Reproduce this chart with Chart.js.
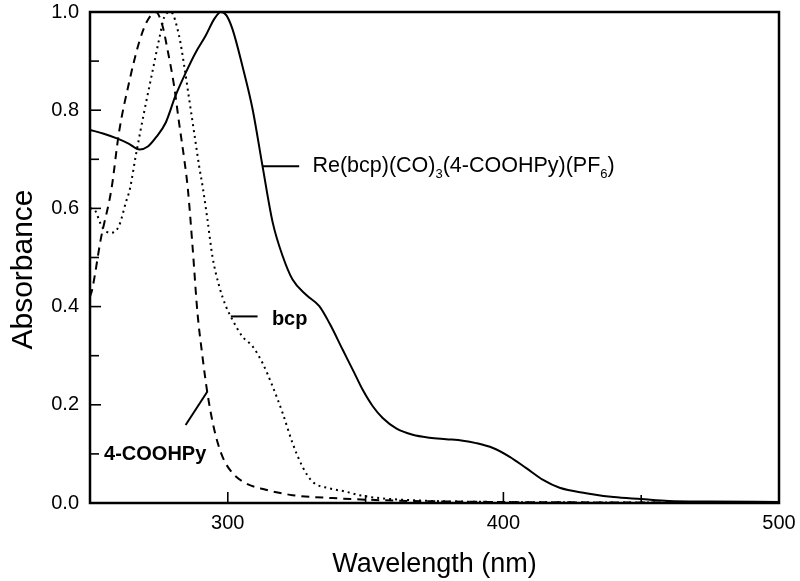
<!DOCTYPE html>
<html>
<head>
<meta charset="utf-8">
<script src="https://cdn.jsdelivr.net/npm/chart.js@4.4.1/dist/chart.umd.min.js"></script>
<style>
  html, body { margin: 0; padding: 0; background: #fff; }
</style>
</head>
<body>
<canvas id="chart" width="800" height="581"></canvas>
<script>
// Re(bcp)(CO)3(4-COOHPy)(PF6) - solid
const reWl = [250, 255, 260, 264, 268, 271, 274, 277.5, 281, 284.8, 288.4, 292, 295, 297.5, 299.5, 301.7, 305.3, 309, 312.6, 316.3, 319.9, 323.5, 328.4, 333.2, 337, 341.7, 345.9, 348.9, 352.6, 356.2, 361.1, 367.1, 373.2, 379.2, 385.3, 390.1, 396.2, 402.3, 408.3, 414.4, 420.4, 430, 440, 450, 460, 475, 500];
const reAbs = [0.760, 0.752, 0.742, 0.732, 0.720, 0.726, 0.745, 0.775, 0.829, 0.877, 0.918, 0.952, 0.985, 1.0, 0.993, 0.965, 0.890, 0.802, 0.686, 0.571, 0.503, 0.455, 0.424, 0.401, 0.365, 0.312, 0.265, 0.231, 0.197, 0.173, 0.152, 0.139, 0.133, 0.130, 0.127, 0.122, 0.112, 0.094, 0.071, 0.047, 0.031, 0.020, 0.012, 0.008, 0.004, 0.003, 0.002];

// bcp - dotted
const bcpWl = [250, 251.5, 254.5, 257.5, 260.5, 263, 264.5, 266.6, 269.6, 272.6, 275.1, 276.9, 279.3, 282.3, 284.2, 286, 287.8, 289.6, 291, 292.6, 294.4, 296.9, 299.3, 301.7, 305.3, 309, 312.6, 316.3, 319.9, 323.5, 327.1, 330.8, 336.8, 342.9, 347.7, 355, 370, 400, 450, 500];
const bcpAbs = [0.600, 0.598, 0.561, 0.550, 0.564, 0.612, 0.640, 0.707, 0.795, 0.877, 0.945, 0.989, 1.0, 0.952, 0.890, 0.822, 0.754, 0.686, 0.640, 0.578, 0.503, 0.441, 0.401, 0.373, 0.339, 0.319, 0.285, 0.237, 0.183, 0.122, 0.074, 0.043, 0.030, 0.023, 0.016, 0.010, 0.005, 0.002, 0.001, 0.0];

// 4-COOHPy - dashed
const pyWl = [250, 250.8, 253.9, 257.8, 260.5, 264.2, 267.8, 270.8, 273.9, 276.3, 278.1, 280.5, 282.3, 284.2, 285.5, 287.2, 289, 290.8, 292.6, 295.1, 298.1, 301.7, 306.6, 313.8, 323.5, 338, 360, 400, 450, 500];
const pyAbs = [0.420, 0.435, 0.537, 0.640, 0.754, 0.857, 0.938, 0.982, 1.0, 0.972, 0.924, 0.850, 0.775, 0.700, 0.640, 0.523, 0.387, 0.299, 0.224, 0.149, 0.094, 0.061, 0.040, 0.027, 0.016, 0.010, 0.005, 0.002, 0.001, 0.0];

const xLabels = [300, 400, 500];
const yLabels = [0.0, 0.2, 0.4, 0.6, 0.8, 1.0];

// curve labels: leader line [x1,y1,x2,y2], text anchor [x,y] in data units
const reLine = [312.6, 0.686, 325.9, 0.686];
const reText = [330.7, 0.686];
const bcpLine = [301.1, 0.380, 310.8, 0.380];
const bcpText = [316, 0.374];
const pyLine = [292.6, 0.227, 284.7, 0.159];
const pyText = [255.1, 0.098];

const FONT = "'Liberation Sans', Arial, sans-serif";

const pts = (xs, ys) => xs.map((x, i) => ({ x: x, y: ys[i] }));

// frame + inward ticks + y title
const framePlugin = {
  id: 'frame',
  afterDraw(chart) {
    const { ctx, chartArea: a, scales } = chart;
    ctx.save();
    ctx.strokeStyle = '#000';
    ctx.lineWidth = 1.6;
    for (let v = 300; v < 500; v += 50) {
      const px = scales.x.getPixelForValue(v);
      const len = v % 100 === 0 ? 11 : 8;
      ctx.beginPath();
      ctx.moveTo(px, a.bottom);
      ctx.lineTo(px, a.bottom - len);
      ctx.stroke();
    }
    for (let i = 1; i < 10; i++) {
      const py = scales.y.getPixelForValue(i / 10);
      ctx.beginPath();
      ctx.moveTo(a.left, py);
      ctx.lineTo(a.left + (i % 2 === 0 ? 11 : 9), py);
      ctx.stroke();
    }
    ctx.lineWidth = 2.5;
    ctx.strokeRect(a.left, a.top, a.right - a.left, a.bottom - a.top);

    // y axis title
    ctx.fillStyle = '#000';
    ctx.font = '30px ' + FONT;
    ctx.textAlign = 'center';
    ctx.textBaseline = 'middle';
    ctx.translate(24, (a.top + a.bottom) / 2 + 12);
    ctx.rotate(-Math.PI / 2);
    ctx.fillText('Absorbance', 0, 0);
    ctx.restore();
  }
};

// curve labels
const labelPlugin = {
  id: 'curveLabels',
  afterDatasetsDraw(chart) {
    const { ctx, scales } = chart;
    const X = v => scales.x.getPixelForValue(v);
    const Y = v => scales.y.getPixelForValue(v);
    ctx.save();
    ctx.strokeStyle = '#000';
    ctx.lineWidth = 2;
    [reLine, bcpLine, pyLine].forEach(l => {
      ctx.beginPath();
      ctx.moveTo(X(l[0]), Y(l[1]));
      ctx.lineTo(X(l[2]), Y(l[3]));
      ctx.stroke();
    });
    ctx.fillStyle = '#000';
    ctx.textBaseline = 'middle';
    ctx.textAlign = 'left';

    // Re(bcp)(CO)3(4-COOHPy)(PF6) with subscripts
    const parts = [['Re(bcp)(CO)', false], ['3', true], ['(4-COOHPy)(PF', false], ['6', true], [')', false]];
    let x = X(reText[0]);
    const y = Y(reText[1]);
    parts.forEach(([t, sub]) => {
      ctx.font = sub ? '13px ' + FONT : '21.5px ' + FONT;
      ctx.fillText(t, x, sub ? y + 8 : y);
      x += ctx.measureText(t).width;
    });

    ctx.font = 'bold 20px ' + FONT;
    ctx.fillText('bcp', X(bcpText[0]), Y(bcpText[1]));
    ctx.fillText('4-COOHPy', X(pyText[0]), Y(pyText[1]));
    ctx.restore();
  }
};

new Chart(document.getElementById('chart').getContext('2d'), {
  type: 'line',
  data: {
    datasets: [
      {
        label: 'Re(bcp)(CO)3(4-COOHPy)(PF6)',
        data: pts(reWl, reAbs),
        borderColor: '#000',
        borderWidth: 2,
        pointRadius: 0,
        cubicInterpolationMode: 'monotone'
      },
      {
        label: 'bcp',
        data: pts(bcpWl, bcpAbs),
        borderColor: '#000',
        borderWidth: 2,
        borderDash: [2, 4],
        pointRadius: 0,
        cubicInterpolationMode: 'monotone'
      },
      {
        label: '4-COOHPy',
        data: pts(pyWl, pyAbs),
        borderColor: '#000',
        borderWidth: 2,
        borderDash: [8, 6],
        pointRadius: 0,
        cubicInterpolationMode: 'monotone'
      }
    ]
  },
  options: {
    responsive: false,
    animation: false,
    devicePixelRatio: 1,
    layout: { padding: { top: 12, right: 21, left: 0, bottom: 0 } },
    plugins: { legend: { display: false }, tooltip: { enabled: false } },
    scales: {
      x: {
        type: 'linear',
        min: 250,
        max: 500,
        afterFit: s => { s.height = 78; s.paddingLeft = 0; s.paddingRight = 0; },
        afterBuildTicks: s => { s.ticks = xLabels.map(v => ({ value: v })); },
        ticks: {
          color: '#000',
          padding: 8,
          maxRotation: 0,
          font: { family: FONT, size: 20 }
        },
        grid: { display: false, drawTicks: false },
        border: { display: false },
        title: {
          display: true,
          text: 'Wavelength (nm)',
          color: '#000',
          padding: { top: 0, bottom: 0 },
          font: { family: FONT, size: 27 }
        }
      },
      y: {
        min: 0,
        max: 1,
        afterFit: s => { s.width = 90; s.paddingTop = 0; s.paddingBottom = 0; },
        afterBuildTicks: s => { s.ticks = yLabels.map(v => ({ value: v })); },
        ticks: {
          color: '#000',
          padding: 11,
          font: { family: FONT, size: 20 },
          callback: v => v.toFixed(1)
        },
        grid: { display: false, drawTicks: false },
        border: { display: false }
      }
    }
  },
  plugins: [framePlugin, labelPlugin]
});
</script>
</body>
</html>
